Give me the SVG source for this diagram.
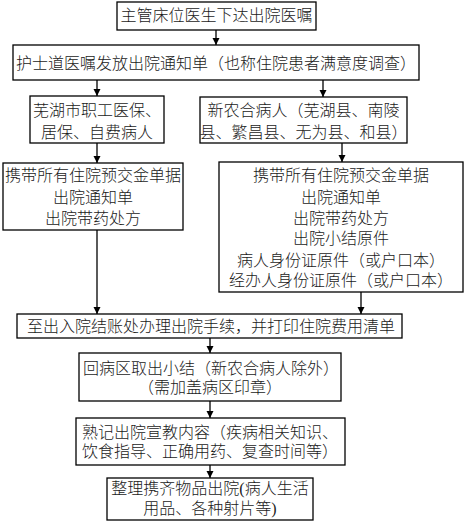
<svg xmlns="http://www.w3.org/2000/svg" width="469" height="524" viewBox="0 0 469 524">
<style>
.box{fill:#fff;stroke:#000;stroke-width:1.3}
.t{font-family:"Liberation Serif","Noto Sans CJK SC",serif;font-size:16px;font-weight:300;fill:#1a1a1a;text-anchor:middle}
.c{stroke:#000;stroke-width:1.3;fill:none}
</style>
<defs>
<marker id="ah" markerWidth="8" markerHeight="8" refX="7" refY="4" orient="auto" markerUnits="userSpaceOnUse">
<path d="M0,0.5 L7,4 L0,7.5 Z" fill="#000"/>
</marker>
</defs>
<rect width="469" height="524" fill="#fff"/>
<g id="connectors">
<line class="c" x1="216" y1="30" x2="216" y2="45" marker-end="url(#ah)"/>
<line class="c" x1="97" y1="80" x2="97" y2="96" marker-end="url(#ah)"/>
<line class="c" x1="323" y1="80" x2="323" y2="97" marker-end="url(#ah)"/>
<line class="c" x1="97" y1="143" x2="97" y2="163" marker-end="url(#ah)"/>
<line class="c" x1="342" y1="143" x2="342" y2="162" marker-end="url(#ah)"/>
<line class="c" x1="97" y1="230" x2="97" y2="314" marker-end="url(#ah)"/>
<line class="c" x1="361" y1="292" x2="361" y2="314" marker-end="url(#ah)"/>
<line class="c" x1="210" y1="338" x2="210" y2="353" marker-end="url(#ah)"/>
<line class="c" x1="210" y1="401" x2="210" y2="418" marker-end="url(#ah)"/>
<line class="c" x1="210" y1="465" x2="210" y2="478" marker-end="url(#ah)"/>
</g>
<g id="n1"><rect class="box" x="117" y="2" width="199" height="28"/><text class="t" x="216.5" y="21">主管床位医生下达出院医嘱</text></g>
<g id="n2"><rect class="box" x="13" y="45" width="406" height="35"/><text class="t" x="216" y="69">护士道医嘱发放出院通知单（也称住院患者满意度调查）</text></g>
<g id="n3"><rect class="box" x="30" y="96" width="134" height="47"/><text class="t" x="97" y="116">芜湖市职工医保、</text><text class="t" x="97" y="138">居保、自费病人</text></g>
<g id="n4"><rect class="box" x="200" y="97" width="207" height="46"/><text class="t" x="303.5" y="116">新农合病人（芜湖县、南陵</text><text class="t" x="303.5" y="138">县、繁昌县、无为县、和县）</text></g>
<g id="n5"><rect class="box" x="3" y="163" width="180" height="67"/><text class="t" x="93" y="181">携带所有住院预交金单据</text><text class="t" x="93" y="203">出院通知单</text><text class="t" x="93" y="224">出院带药处方</text></g>
<g id="n6"><rect class="box" x="219" y="162" width="244" height="130"/><text class="t" x="341" y="181">携带所有住院预交金单据</text><text class="t" x="341" y="203">出院通知单</text><text class="t" x="341" y="224">出院带药处方</text><text class="t" x="341" y="244">出院小结原件</text><text class="t" x="341" y="266">病人身份证原件（或户口本）</text><text class="t" x="341" y="286">经办人身份证原件（或户口本）</text></g>
<g id="n7"><rect class="box" x="17" y="314" width="385" height="24"/><text class="t" x="211" y="332">至出入院结账处办理出院手续，并打印住院费用清单</text></g>
<g id="n8"><rect class="box" x="79" y="353" width="262" height="48"/><text class="t" x="211" y="374">回病区取出小结（新农合病人除外）</text><text class="t" x="210" y="393">（需加盖病区印章）</text></g>
<g id="n9"><rect class="box" x="76" y="418" width="269" height="47"/><text class="t" x="210" y="438">熟记出院宣教内容（疾病相关知识、</text><text class="t" x="210" y="457">饮食指导、正确用药、复查时间等）</text></g>
<g id="n10"><rect class="box" x="107" y="478" width="206" height="42"/><text class="t" x="210" y="494">整理携齐物品出院(病人生活</text><text class="t" x="210" y="514">用品、各种射片等)</text></g>
</svg>
